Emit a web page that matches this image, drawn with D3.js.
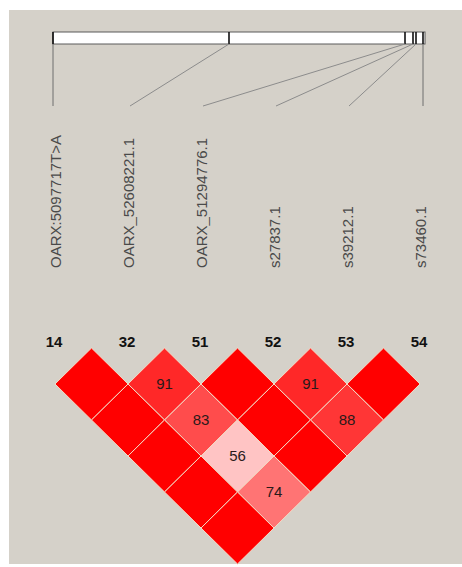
<!DOCTYPE html>
<html>
<head>
<meta charset="utf-8">
<script src="https://cdn.jsdelivr.net/npm/d3@7"></script>
<style>
  html, body { margin: 0; padding: 0; background: #ffffff; }
  svg { display: block; }
</style>
</head>
<body>
<script>
// ---- data ----
const markerIds = ["14", "32", "51", "52", "53", "54"];
const markerNames = ["OARX:5097717T>A", "OARX_52608221.1", "OARX_51294776.1", "s27837.1", "s39212.1", "s73460.1"];
// relative physical positions along the region (arbitrary units)
const markerPositions = [0, 176, 352, 360, 363, 370];
const regionLength = 372;
// pairwise D' (x100): [firstMarkerIndex, secondMarkerIndex, value]
const dprimePairs = [
  [0, 1, 100], [1, 2, 91], [2, 3, 100], [3, 4, 91], [4, 5, 100],
  [0, 2, 100], [1, 3, 83], [2, 4, 100], [3, 5, 88],
  [0, 3, 100], [1, 4, 56], [2, 5, 100],
  [0, 4, 100], [1, 5, 74],
  [0, 5, 100]
];

// ---- layout ----
const W = 462, H = 567;
const svg = d3.select("body").append("svg").attr("width", W).attr("height", H);

svg.append("rect").attr("x", 9).attr("y", 10).attr("width", 453).attr("height", 554)
  .attr("fill", "#d5d1c9");

const xPhys = d3.scaleLinear().domain([0, regionLength]).range([53, 425]);
const xCol = d3.scalePoint().domain(markerIds).range([55, 420]);

const barTop = 32, barH = 12, lineEndY = 106;

// bar
svg.append("rect").attr("x", xPhys(0)).attr("y", barTop)
  .attr("width", xPhys(regionLength) - xPhys(0)).attr("height", barH)
  .attr("fill", "#ffffff").attr("stroke", "#5a5a5a").attr("stroke-width", 1);

// ticks in bar
svg.selectAll("line.tick").data(markerPositions).enter().append("line")
  .attr("class", "tick")
  .attr("x1", d => xPhys(d)).attr("x2", d => xPhys(d))
  .attr("y1", barTop).attr("y2", barTop + barH)
  .attr("stroke", "#111").attr("stroke-width", 1.6);

// connecting lines
svg.selectAll("line.conn").data(markerIds).enter().append("line")
  .attr("class", "conn")
  .attr("x1", (d, i) => xPhys(markerPositions[i]))
  .attr("y1", barTop + barH)
  .attr("x2", (d, i) => (i === 0 ? xPhys(markerPositions[i]) : (i === markerIds.length - 1 ? xPhys(markerPositions[i]) : xCol(d) + 2)))
  .attr("y2", lineEndY)
  .attr("stroke", (d, i) => (i === 0 || i === markerIds.length - 1) ? "#6e6e6e" : "#8c8c8c")
  .attr("stroke-width", 1);

// marker names (rotated)
const labelBottom = 268;
svg.selectAll("text.name").data(markerNames).enter().append("text")
  .attr("class", "name")
  .attr("transform", (d, i) => `translate(${xCol(markerIds[i]) + 6},${labelBottom}) rotate(-90)`)
  .attr("text-anchor", "start")
  .attr("font-family", "Liberation Sans, Arial, sans-serif")
  .attr("font-size", 15)
  .attr("fill", "#4a4a4a")
  .text(d => d);

// marker ids
svg.selectAll("text.id").data(markerIds).enter().append("text")
  .attr("class", "id")
  .attr("x", d => xCol(d) - 1)
  .attr("y", 347)
  .attr("text-anchor", "middle")
  .attr("font-family", "Liberation Sans, Arial, sans-serif")
  .attr("font-size", 15)
  .attr("font-weight", "bold")
  .attr("fill", "#111")
  .text(d => d);

// diamonds
const hw = (xCol(markerIds[1]) - xCol(markerIds[0])) / 2;
const hh = 36;
const topY = 348;
function color(v) {
  const d = v / 100;
  const g = Math.round((255 - 32) * 2 * (1 - d));
  return d3.rgb(255, g, g).toString();
}
const cells = dprimePairs.map(([i, j, v]) => ({
  cx: (xCol(markerIds[i]) + xCol(markerIds[j])) / 2,
  cy: topY + (j - i) * hh,
  v
}));

const g = svg.append("g");
g.selectAll("path.cell").data(cells).enter().append("path")
  .attr("class", "cell")
  .attr("d", c => `M${c.cx},${c.cy - hh}L${c.cx + hw},${c.cy}L${c.cx},${c.cy + hh}L${c.cx - hw},${c.cy}Z`)
  .attr("fill", c => color(c.v))
  .attr("stroke", "#f3dcc6")
  .attr("stroke-width", 1);

g.selectAll("text.val").data(cells.filter(c => c.v < 100)).enter().append("text")
  .attr("class", "val")
  .attr("x", c => c.cx)
  .attr("y", c => c.cy + 5)
  .attr("text-anchor", "middle")
  .attr("font-family", "Liberation Sans, Arial, sans-serif")
  .attr("font-size", 15)
  .attr("fill", "#2a1a1a")
  .text(c => c.v);
</script>
</body>
</html>
